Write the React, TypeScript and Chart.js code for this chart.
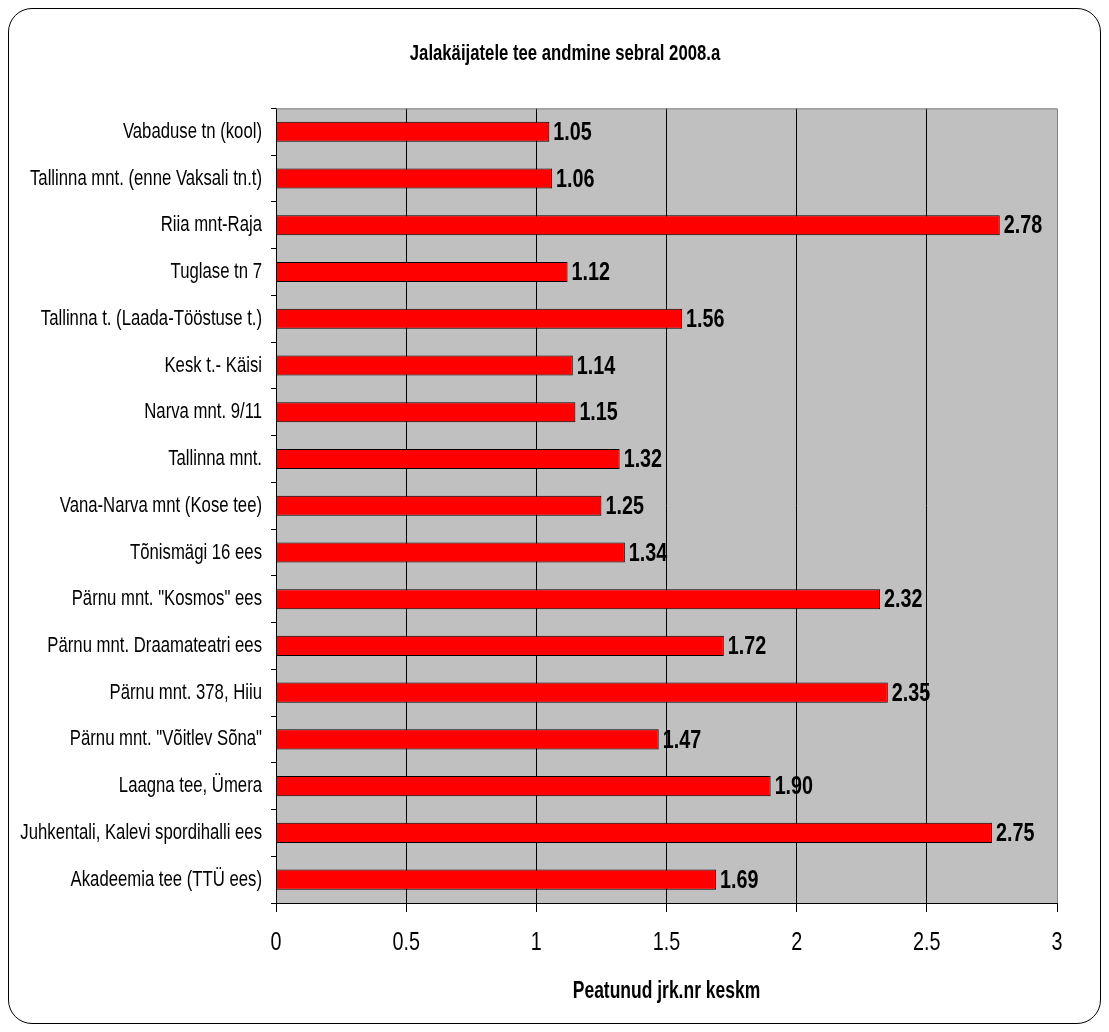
import React, { useEffect, useRef } from "react";
import { Chart, registerables } from "chart.js";

Chart.register(...registerables);

const chartTitle = "Jalakäijatele tee andmine sebral 2008.a";
const xAxisTitle = "Peatunud jrk.nr keskm";

const categories = [
  "Vabaduse tn (kool)",
  "Tallinna mnt. (enne Vaksali tn.t)",
  "Riia mnt-Raja",
  "Tuglase tn 7",
  "Tallinna t. (Laada-Tööstuse t.)",
  "Kesk t.- Käisi",
  "Narva mnt. 9/11",
  "Tallinna mnt.",
  "Vana-Narva mnt (Kose tee)",
  "Tõnismägi 16 ees",
  'Pärnu mnt. "Kosmos" ees',
  "Pärnu mnt. Draamateatri ees",
  "Pärnu mnt. 378, Hiiu",
  'Pärnu mnt. "Võitlev Sõna"',
  "Laagna tee, Ümera",
  "Juhkentali, Kalevi spordihalli ees",
  "Akadeemia tee (TTÜ ees)",
];

const values = [1.05, 1.06, 2.78, 1.12, 1.56, 1.14, 1.15, 1.32, 1.25, 1.34, 2.32, 1.72, 2.35, 1.47, 1.9, 2.75, 1.69];

const xMin = 0;
const xMax = 3;
const xStep = 0.5;

const FONT = "'Liberation Sans', Arial, sans-serif";
const TEXT_SCALE_X = 0.76;

const plotBgPlugin = {
  id: "plotBg",
  beforeDraw(chart: any) {
    const { ctx, chartArea } = chart;
    ctx.save();
    ctx.fillStyle = "#C0C0C0";
    ctx.fillRect(chartArea.left, chartArea.top, chartArea.right - chartArea.left, chartArea.bottom - chartArea.top);
    ctx.restore();
  },
  afterDraw(chart: any) {
    const { ctx, chartArea } = chart;
    ctx.save();
    ctx.strokeStyle = "#808080";
    ctx.lineWidth = 1;
    ctx.beginPath();
    ctx.moveTo(chartArea.left, chartArea.top + 0.5);
    ctx.lineTo(chartArea.right + 0.5, chartArea.top + 0.5);
    ctx.lineTo(chartArea.right + 0.5, chartArea.bottom);
    ctx.stroke();
    ctx.restore();
  },
};

const valueLabelPlugin = {
  id: "valueLabels",
  afterDatasetsDraw(chart: any) {
    const { ctx } = chart;
    const meta = chart.getDatasetMeta(0);
    ctx.save();
    ctx.fillStyle = "#000";
    ctx.font = `bold 26px ${FONT}`;
    ctx.textAlign = "left";
    ctx.textBaseline = "middle";
    meta.data.forEach((bar: any, i: number) => {
      const v = chart.data.datasets[0].data[i] as number;
      ctx.fillText(v.toFixed(2), bar.x + 4, bar.y + 1);
    });
    ctx.restore();
  },
};

function condenseText(canvas: HTMLCanvasElement) {
  const ctx: any = canvas.getContext("2d");
  if (!ctx || ctx.__condensed) return;
  const orig = ctx.fillText.bind(ctx);
  ctx.fillText = (text: string, x: number, y: number, maxWidth?: number) => {
    ctx.save();
    ctx.translate(x, y);
    ctx.scale(TEXT_SCALE_X, 1);
    if (maxWidth !== undefined && maxWidth !== null) orig(text, 0, 0, maxWidth / TEXT_SCALE_X);
    else orig(text, 0, 0);
    ctx.restore();
  };
  ctx.__condensed = true;
}

export default function App() {
  const ref = useRef<HTMLCanvasElement>(null);

  useEffect(() => {
    if (!ref.current) return;
    condenseText(ref.current);
    const chart = new Chart(ref.current, {
      type: "bar",
      data: {
        labels: categories,
        datasets: [
          {
            data: values,
            backgroundColor: "#FF0000",
            borderColor: "#000000",
            borderWidth: 1,
            barPercentage: 0.43,
            categoryPercentage: 1,
          },
        ],
      },
      options: {
        indexAxis: "y",
        animation: false,
        responsive: false,
        devicePixelRatio: 1,
        layout: { padding: { left: 64, right: 43, top: 0, bottom: 0 } },
        plugins: {
          legend: { display: false },
          tooltip: { enabled: false },
          title: {
            display: true,
            text: chartTitle,
            color: "#000",
            font: { family: FONT, size: 22, weight: "bold" },
            padding: { top: 32, bottom: 41 },
          },
        },
        scales: {
          x: {
            type: "linear",
            min: xMin,
            max: xMax,
            afterFit(scale: any) {
              scale.height = 120;
            },
            ticks: {
              stepSize: xStep,
              color: "#000",
              font: { family: FONT, size: 26 },
              padding: 15,
              callback: (v: any) => String(v),
            },
            grid: {
              color: (c: any) => (c.tick && c.tick.value === xMax ? "rgba(0,0,0,0)" : "#000"),
              tickColor: "#000",
              tickLength: 9,
              lineWidth: 1,
            },
            border: { color: "#000", width: 1 },
            title: {
              display: true,
              text: xAxisTitle,
              color: "#000",
              font: { family: FONT, size: 23, weight: "bold" },
              padding: { top: 0, bottom: 18 },
            },
          },
          y: {
            type: "category",
            afterFit(scale: any) {
              scale.width = 203;
              scale._computeLabelArea = () => undefined;
            },
            ticks: {
              color: "#000",
              font: { family: FONT, size: 22 },
              padding: 9,
            },
            grid: {
              drawOnChartArea: false,
              offset: true,
              tickLength: 5,
              color: "#000",
              tickColor: "#000",
            },
            border: { color: "#000", width: 1 },
          },
        },
      },
      plugins: [plotBgPlugin, valueLabelPlugin],
    } as any);
    return () => chart.destroy();
  }, []);

  return (
    <div
      style={{
        width: 1091,
        height: 1014,
        border: "1px solid #000",
        borderRadius: 24,
        overflow: "hidden",
        background: "#fff",
      }}
    >
      <canvas ref={ref} width={1091} height={1014} style={{ display: "block" }} />
    </div>
  );
}
